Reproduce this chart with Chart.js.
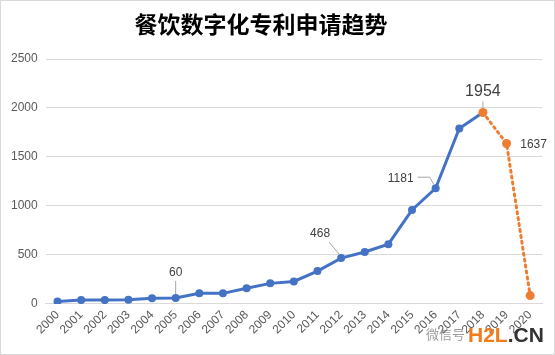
<!DOCTYPE html>
<html>
<head>
<meta charset="utf-8">
<script src="https://cdn.jsdelivr.net/npm/chart.js@4/dist/chart.umd.min.js"></script>
<style>
  body { margin: 0; background: #fff; }
  #wrap { position: relative; width: 553px; height: 353px; border: 1px solid #d9d9d9; }
</style>
</head>
<body>
<div id="wrap"><canvas id="chart" width="553" height="353"></canvas></div>
<script>
const title = '餐饮数字化专利申请趋势'
const years = ['2000','2001','2002','2003','2004','2005','2006','2007','2008','2009','2010',
  '2011','2012','2013','2014','2015','2016','2017','2018','2019','2020']
const actual = [25, 40, 40, 42, 58, 60, 110, 108, 160, 210, 230,
  335, 468, 530, 610, 960, 1181, 1790, 1954, null, null]
const forecast = [null, null, null, null, null, null, null, null, null, null, null,
  null, null, null, null, null, null, null, 1954, 1637, 85]
const yTicks = [0, 500, 1000, 1500, 2000, 2500]

// labelled points: index, series, text offset from point, font size, leader style
const callouts = [
  { i: 5, src: actual, dx: 0, dy: -25, size: 12, line: 'up' },
  { i: 12, src: actual, dx: -21, dy: -24, size: 12, line: 'up' },
  { i: 16, src: actual, dx: -35, dy: -10, size: 12, line: 'elbow' },
  { i: 18, src: forecast, dx: 0, dy: -21, size: 16, line: 'up' },
  { i: 19, src: forecast, dx: 27, dy: 1, size: 12, line: null }
]

const labelPlugin = {
  id: 'callouts',
  afterDatasetsDraw(chart) {
    const ctx = chart.ctx
    const x = chart.scales.x
    const y = chart.scales.y
    ctx.save()
    // title, centred a little left like the original
    ctx.fillStyle = '#000000'
    ctx.font = 'bold 23px "Noto Sans CJK SC", sans-serif'
    ctx.textAlign = 'center'
    ctx.textBaseline = 'middle'
    ctx.fillText(title, 260, 23)

    callouts.forEach((c) => {
      const px = x.getPixelForValue(c.i)
      const py = y.getPixelForValue(c.src[c.i])
      const tx = px + c.dx
      const ty = py + c.dy
      ctx.strokeStyle = '#a6a6a6'
      ctx.lineWidth = 1
      ctx.beginPath()
      if (c.line === 'elbow') {
        ctx.moveTo(tx + 17, ty - 1)
        ctx.lineTo(px - 6, ty - 1)
        ctx.lineTo(px - 2, py - 4)
        ctx.stroke()
      } else if (c.line === 'up') {
        const sx = tx + (c.dx ? 9 : 0)
        ctx.moveTo(sx, ty + c.size / 2 + 2)
        ctx.lineTo(px - (c.dx ? 2 : 0), py - 4)
        ctx.stroke()
      }
      ctx.fillStyle = '#404040'
      ctx.font = c.size + 'px "Liberation Sans", Arial, sans-serif'
      ctx.textAlign = 'center'
      ctx.textBaseline = 'middle'
      ctx.fillText(String(c.src[c.i]), tx, ty)
    })
    // watermark
    ctx.font = 'bold 21px "Liberation Sans", Arial, sans-serif'
    ctx.textAlign = 'left'
    ctx.textBaseline = 'alphabetic'
    ctx.fillStyle = '#f07c1a'
    ctx.fillText('H2L', 467, 341)
    const w = ctx.measureText('H2L').width
    ctx.fillStyle = '#333333'
    ctx.fillText('.CN', 467 + w, 341)
    ctx.font = '13px "Noto Sans CJK SC", sans-serif'
    ctx.fillStyle = 'rgba(90,90,90,0.6)'
    ctx.fillText('微信号', 425, 338)
    ctx.restore()
  }
}

new Chart(document.getElementById('chart').getContext('2d'), {
  type: 'line',
  data: {
    labels: years,
    datasets: [
      {
        data: forecast,
        borderColor: '#ed7d31',
        backgroundColor: '#ed7d31',
        borderWidth: 3,
        borderDash: [2, 4],
        borderCapStyle: 'round',
        pointRadius: 4.5,
        pointBorderWidth: 0,
        pointBackgroundColor: '#ed7d31',
        spanGaps: false,
        order: 1
      },
      {
        data: actual,
        borderColor: '#4472c4',
        backgroundColor: '#4472c4',
        borderWidth: 3,
        pointRadius: actual.map((v, i) => (i === 18 ? 0 : 4)),
        pointBorderWidth: 0,
        pointBackgroundColor: '#4472c4',
        order: 2
      }
    ]
  },
  options: {
    responsive: false,
    animation: false,
    layout: { padding: { left: 2, right: 12, top: 58, bottom: 13 } },
    plugins: {
      legend: { display: false },
      tooltip: { enabled: false },
      title: { display: false }
    },
    scales: {
      x: {
        offset: true,
        grid: { display: false, drawTicks: false },
        border: { color: '#d9d9d9' },
        ticks: {
          color: '#595959',
          font: { family: '"Liberation Sans", Arial, sans-serif', size: 12 },
          minRotation: 45,
          maxRotation: 45,
          autoSkip: false,
          padding: 4
        }
      },
      y: {
        min: 0,
        max: 2500,
        afterBuildTicks: (axis) => { axis.ticks = yTicks.map((v) => ({ value: v })) },
        grid: { color: '#d9d9d9', drawTicks: false },
        border: { display: false },
        ticks: {
          color: '#595959',
          font: { family: '"Liberation Sans", Arial, sans-serif', size: 12 },
          padding: 8,
          callback: (v) => String(v)
        }
      }
    }
  },
  plugins: [labelPlugin]
})
</script>
</body>
</html>
